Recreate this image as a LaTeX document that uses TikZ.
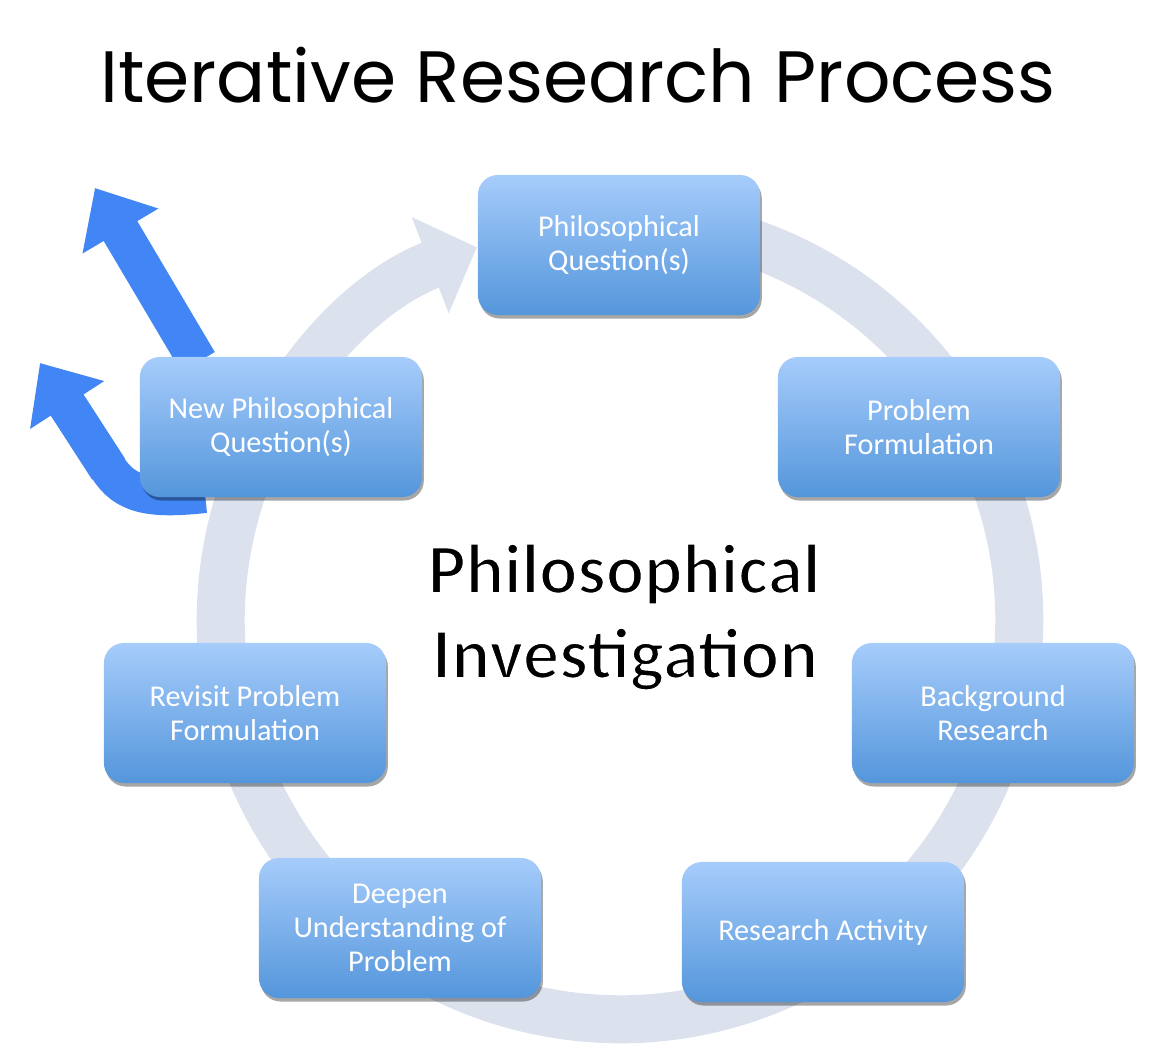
\documentclass[tikz,border=0pt]{standalone}
\usepackage{fontspec}
\setmainfont{Carlito}
\newfontfamily\titlefont{Poppins}
\usetikzlibrary{arrows.meta,shadows,calc}
\definecolor{ringc}{RGB}{219,225,237}
\definecolor{boxtop}{RGB}{166,204,251}
\definecolor{boxbot}{RGB}{84,150,219}
\definecolor{bluearr}{RGB}{66,133,244}
\newcommand{\outlinedtext}[1]{\special{pdf:literal direct q 2 Tr 1 1 1 RG 0.35 w}#1\special{pdf:literal direct Q}}
\tikzset{
  stepbox/.style={rounded corners=0.2cm, minimum width=2.82cm, minimum height=1.4cm,
    top color=boxtop, bottom color=boxbot, text=white, align=center,
    font=\fontsize{8.6}{9.7}\selectfont,
    drop shadow={shadow xshift=0.5pt,shadow yshift=-1pt,opacity=0.35,fill=black}},
  bigarrow/.style={line width=0.39cm, bluearr, -{Triangle[length=0.5cm,width=0.85cm]}},
  centertext/.style={font=\bfseries, inner sep=0pt}
}
\begin{document}
\begin{tikzpicture}[x=0.01cm,y=-0.01cm]
\useasboundingbox (0,0) rectangle (1163,1048);
% ring
\coordinate (rc) at (620,620);
\draw[ringc, line width=0.48cm, -{Triangle[length=0.5cm,width=1.0cm]}]
  (rc) ++(80:3.99cm) arc[start angle=80, end angle=-249, radius=3.99cm];
% blue arrows
\coordinate (a1s) at (198,362);
\coordinate (a1e) at (95,188);
\draw[bigarrow] (a1s) -- (a1e);
\coordinate (a2s) at (205,494);
\coordinate (a2e) at (40,363);
\draw[bluearr, line width=0.38cm] (a2s) .. controls (150,500) and (125,495) .. (108,468);
\draw[bigarrow] (108.5,469) -- (a2e);
% title
\node (title) at (578,75) {\resizebox{9.55cm}{!}{\titlefont Iterative Research Process}};
% boxes
\node[stepbox] (b1) at (619,245) {Philosophical\\Question(s)};
\node[stepbox] (b2) at (919,427) {Problem\\Formulation};
\node[stepbox] (b3) at (993,713) {Background\\Research};
\node[stepbox] (b4) at (823,932) {Research Activity};
\node[stepbox] (b5) at (400,928) {Deepen\\Understanding of\\Problem};
\node[stepbox] (b6) at (245,713) {Revisit Problem\\Formulation};
\node[stepbox] (b7) at (281,427) {New Philosophical\\Question(s)};
% center text
\node[centertext] (c1) at (624,574) {\resizebox{3.92cm}{!}{\outlinedtext{Philosophical}}};
\node[centertext] (c2) at (625,659) {\resizebox{3.86cm}{!}{\outlinedtext{Investigation}}};
\end{tikzpicture}
\end{document}
